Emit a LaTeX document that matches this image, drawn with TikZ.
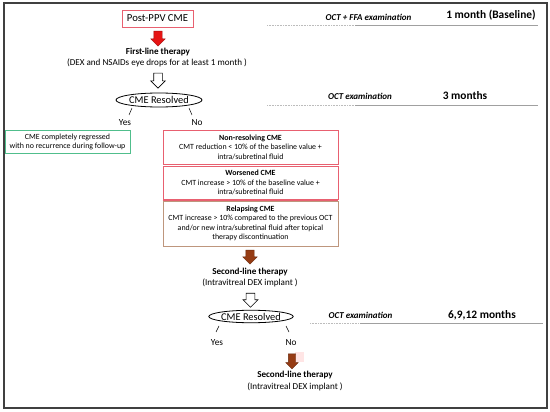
\documentclass[tikz,border=0pt]{standalone}
\usepackage{fontspec}
\setmainfont{Carlito}
\usetikzlibrary{shapes.geometric,shapes.arrows}
\definecolor{boxred}{RGB}{232,96,112}
\definecolor{boxtan}{RGB}{190,150,125}
\definecolor{boxgreen}{RGB}{80,190,140}
\definecolor{arrred}{RGB}{230,20,20}
\definecolor{arrbrown}{RGB}{150,60,20}
\definecolor{linegray}{RGB}{160,160,160}
\tikzset{
  blk/.style={single arrow, rotate=-90, inner xsep=0pt, inner ysep=4pt, single arrow head extend=3pt,
    single arrow head indent=0pt, minimum height=15pt, minimum width=14pt},
  redbox/.style={draw=boxred, line width=0.8pt, inner sep=0pt, align=center,
    font=\fontsize{7.9}{9.4}\selectfont},
  bigbold/.style={font=\fontsize{11.4}{13}\selectfont\bfseries},
  exam/.style={font=\fontsize{9}{10}\selectfont\bfseries\itshape},
  head/.style={font=\fontsize{9.1}{11}\selectfont\bfseries},
  sub/.style={font=\fontsize{9.1}{11}\selectfont},
  yn/.style={font=\fontsize{9.3}{11}\selectfont},
  slashline/.style={line width=0.5pt},
}
\begin{document}
\begin{tikzpicture}[x=1pt,y=-1pt]
\useasboundingbox (0,0) rectangle (550,412);
\fill[white] (0,0) rectangle (550,412);
\draw[line width=1.2pt, black!75] (4,3) rectangle (547,408);

% top
\node[draw=boxred, line width=0.8pt, minimum width=71pt, minimum height=17pt, inner sep=0pt,
  font=\fontsize{10.7}{12}\selectfont] (post) at (157.5,18.5) {Post-PPV CME};
\node[blk, fill=arrred, draw=arrred!70!black, line width=0.4pt] (a1) at (158,36.5) {};
\node[head] (first) at (158,52) {First-line therapy};
\node[sub] (firstd) at (157,63) {(DEX and NSAIDs eye drops for at least 1 month )};
\node[blk, fill=white, draw=black, line width=0.6pt] (a2) at (158,78.5) {};
\node[ellipse, draw, line width=0.8pt, minimum width=86pt, minimum height=14pt, inner sep=0pt,
  font=\fontsize{10.4}{12}\selectfont] (res1) at (159,100) {CME Resolved};
\coordinate (s1a) at (132,108); \coordinate (s1b) at (129,115);
\coordinate (s2a) at (189,108); \coordinate (s2b) at (192,115);
\draw[slashline] (s1a) -- (s1b);
\draw[slashline] (s2a) -- (s2b);
\node[yn] (yes1) at (125,123) {Yes};
\node[yn] (no1) at (197,123) {No};

% green box
\node[draw=boxgreen, line width=0.8pt, minimum width=125pt, minimum height=23pt, inner sep=0pt,
  align=center, font=\fontsize{7.9}{9.4}\selectfont] (green) at (67.5,142) {CME completely regressed\\with no recurrence during follow-up};

% red boxes
\node[redbox, minimum width=175pt, minimum height=34pt] (nonres) at (250.5,147)
  {\textbf{Non-resolving CME}\\CMT reduction < 10\% of the baseline value +\\intra/subretinal fluid};
\node[redbox, minimum width=175pt, minimum height=33pt] (worse) at (250.5,182.5)
  {\textbf{Worsened CME}\\CMT increase > 10\% of the baseline value +\\intra/subretinal fluid};
\node[redbox, draw=boxtan, minimum width=175pt, minimum height=45pt] (relapse) at (250.5,223.5)
  {\textbf{Relapsing CME}\\CMT increase > 10\% compared to the previous OCT\\and/or new intra/subretinal fluid after topical\\therapy discontinuation};
\draw[boxred, line width=0.8pt] (relapse.north west) -- (relapse.north east);

\node[blk, fill=arrbrown, draw=arrbrown!70!black, line width=0.4pt, minimum height=14pt] (a3) at (250,255) {};
\node[head] (second1) at (250,272) {Second-line therapy};
\node[sub] (second1d) at (250,283) {(Intravitreal DEX implant )};
\node[blk, fill=white, draw=black, line width=0.6pt, minimum height=14pt, minimum width=15pt] (a4) at (250.5,298) {};
\node[ellipse, draw, line width=0.8pt, minimum width=84pt, minimum height=12.5pt, inner sep=0pt,
  font=\fontsize{10.4}{12}\selectfont] (res2) at (251,316.5) {CME Resolved};
\coordinate (t1a) at (219,326); \coordinate (t1b) at (216,332);
\coordinate (t2a) at (286,326); \coordinate (t2b) at (289,332);
\draw[slashline] (t1a) -- (t1b);
\draw[slashline] (t2a) -- (t2b);
\node[yn] (yes2) at (217,343) {Yes};
\node[yn] (no2) at (291,343) {No};
\fill[pink!40] (295,352) rectangle (304,362);
\node[blk, fill=arrbrown, draw=arrbrown!70!black, line width=0.4pt, minimum width=12pt, inner ysep=3.5pt, single arrow head extend=2.5pt] (a5) at (292,359.5) {};
\node[head] (second2) at (295,375) {Second-line therapy};
\node[sub] (second2d) at (295,387) {(Intravitreal DEX implant )};

% right column
\node[exam] (e1) at (368.5,17) {OCT + FFA examination};
\node[bigbold] (m1) at (491,15) {1 month (Baseline)};
\coordinate (l1a) at (267,25); \coordinate (l1b) at (355,25); \coordinate (l1c) at (538,25);
\draw[linegray!70, densely dotted, line width=0.6pt] (l1a) -- (l1b);
\draw[linegray, line width=0.6pt] (l1b) -- (l1c);

\node[exam] (e2) at (360,96) {OCT examination};
\node[bigbold] (m2) at (465,95.5) {3 months};
\coordinate (l2a) at (267,105); \coordinate (l2b) at (355,105); \coordinate (l2c) at (538,105);
\draw[linegray!70, densely dotted, line width=0.6pt] (l2a) -- (l2b);
\draw[linegray, line width=0.6pt] (l2b) -- (l2c);

\node[exam] (e3) at (360.5,315) {OCT examination};
\node[bigbold] (m3) at (482,315) {6,9,12 months};
\coordinate (l3a) at (310,323); \coordinate (l3b) at (360,323); \coordinate (l3c) at (543,323);
\draw[linegray!70, densely dotted, line width=0.6pt] (l3a) -- (l3b);
\draw[linegray, line width=0.6pt] (l3b) -- (l3c);
\end{tikzpicture}
\end{document}
